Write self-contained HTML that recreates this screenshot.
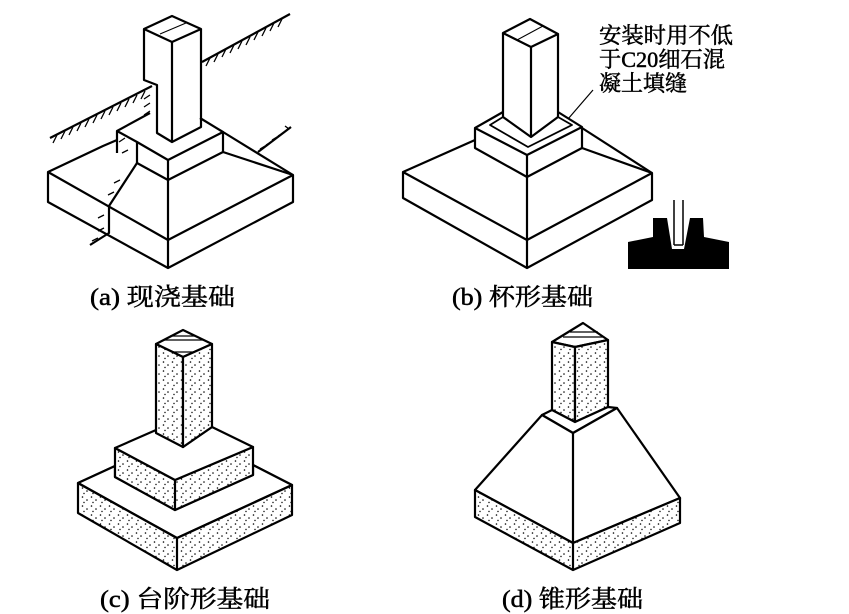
<!DOCTYPE html>
<html><head><meta charset="utf-8"><style>
html,body{margin:0;padding:0;background:#fff}
svg{display:block}
text{font-family:"Liberation Serif","Noto Serif CJK SC","Noto Sans CJK SC",serif;fill:#000}
</style></head><body>
<svg width="849" height="614" viewBox="0 0 849 614" xmlns="http://www.w3.org/2000/svg">
<defs>
<pattern id="dots" width="9" height="9" patternUnits="userSpaceOnUse">
<rect width="9" height="9" fill="#fff"/>
<circle cx="1.5" cy="2" r="0.8" fill="#000"/><circle cx="6" cy="5" r="0.8" fill="#000"/><circle cx="3" cy="7.5" r="0.7" fill="#000"/>
</pattern>
</defs>
<g fill="none" stroke="#000" stroke-width="2.2" stroke-linejoin="round">
<!-- (a) -->
<polyline points="50,138 152,86"/>
<polyline points="202,62 290,14"/>
<polyline points="258,152 291,127"/>
<g stroke-width="1.3">
<path d="M57,135 l-4,8 M65,131 l-4,8 M73,127 l-4,8 M81,123 l-4,8 M89,119 l-4,8 M97,115 l-4,8 M105,111 l-4,8 M113,107 l-4,8 M121,103 l-4,8 M129,99 l-4,8 M137,95 l-4,8 M145,91 l-4,8"/>
<path d="M210,58 l-4,8 M218,54 l-4,8 M226,49 l-4,8 M234,45 l-4,8 M242,41 l-4,8 M250,37 l-4,8 M258,32 l-4,8 M266,28 l-4,8 M274,23 l-4,8 M282,19 l-4,8"/>
<path d="M265,146 l-5,3 M271,142 l-5,3 M277,137 l-5,3 M283,133 l-5,3 M289,129 l-4,-3"/>
<path d="M150,95 l-6,4 M150,103 l-6,4 M150,111 l-6,4 M125,138 l-6,4 M128,150 l-6,3 M120,180 l-6,3 M114,192 l-6,3 M104,215 l-6,3 M104,228 l-6,3 M98,238 l-6,3"/>
</g>
<polygon points="144,29 172,16 201,29 172,42" />
<line x1="172" y1="42" x2="172" y2="142"/>
<polyline points="144,29 144,80 157,85 157,133 172,142 201,127 201,29"/>
<line x1="160" y1="34" x2="186" y2="23" stroke-width="1"/>
<polyline points="150,113 117,131 117,153"/>
<polyline points="117,131 137,142 168,160 223,132 200,118"/>
<line x1="168" y1="160" x2="168" y2="268"/>
<line x1="223" y1="132" x2="223" y2="152"/>
<polyline points="137,163 168,180 223,152"/>
<line x1="137" y1="142" x2="137" y2="163"/>
<polyline points="137,163 109,206 109,233 90,245"/>
<polyline points="117,140 103,146 48,172 48,202 168,268 293,202 293,175 168,240 48,172"/>
<line x1="223" y1="132" x2="293" y2="175"/>
<line x1="223" y1="152" x2="293" y2="175"/>

<!-- (b) -->
<polygon points="503,33 530,19 558,34 531,47"/>
<line x1="531" y1="47" x2="531" y2="137"/>
<polyline points="503,33 503,117 531,137 558,117 558,34"/>
<g stroke-width="1"><line x1="517" y1="40" x2="543" y2="26"/></g>
<polyline points="503,117 490,125 528,147 572,125 558,117" stroke-width="1.8"/>
<polyline points="503,112 475,128 475,148 527,177 582,148 582,127 558,112"/>
<polyline points="475,128 527,155 582,127"/>
<line x1="527" y1="155" x2="527" y2="268"/>
<polyline points="475,140 403,172 403,198 527,268 652,200 652,173 527,240 403,172"/>
<line x1="582" y1="128" x2="652" y2="173"/>
<line x1="582" y1="148" x2="652" y2="173"/>
<line x1="593" y1="90" x2="568" y2="119" stroke-width="1.2"/>

<!-- (c) -->
<polygon points="156,344 183,330 212,344 183,357" fill="#fff"/>
<g stroke-width="1.2"><line x1="170" y1="336" x2="196" y2="336"/><line x1="164" y1="340" x2="203" y2="340"/><line x1="171" y1="352" x2="195" y2="352"/></g>
<polygon points="78,483 115,466 115,477 175,510 253,475 253,465 292,485 292,515 177,570 78,513" fill="url(#dots)"/>
<polygon points="78,483 115,466 115,477 175,510 253,475 253,465 292,485 177,538" fill="#fff"/>
<polyline points="78,483 177,538 292,485"/>
<line x1="177" y1="538" x2="177" y2="570"/>
<polygon points="115,448 115,477 175,510 253,475 253,447 175,480" fill="url(#dots)"/>
<polygon points="115,448 156,430 183,447 212,427 253,447 175,480" fill="#fff"/>
<line x1="175" y1="480" x2="175" y2="510"/>
<polygon points="156,344 183,357 183,447 156,433" fill="url(#dots)"/>
<polygon points="183,357 212,344 212,427 183,447" fill="url(#dots)"/>

<!-- (d) -->
<polygon points="552,342 583,323 608,340 575,347" fill="#fff"/>
<g stroke-width="1.2"><line x1="570" y1="332" x2="598" y2="332"/><line x1="563" y1="337" x2="604" y2="337"/></g>
<polygon points="552,342 575,347 575,422 552,410" fill="url(#dots)"/>
<polygon points="575,347 608,340 608,407 575,422" fill="url(#dots)"/>
<polygon points="542,415 552,410 575,422 608,407 617,408 573,433" fill="#fff"/>
<polygon points="475,490 542,415 573,433 617,408 680,498 573,543" fill="#fff"/>
<line x1="573" y1="433" x2="573" y2="570"/>
<polygon points="475,490 573,543 680,498 680,523 573,570 475,517" fill="url(#dots)"/>
<line x1="573" y1="543" x2="573" y2="570"/>
</g>
<polygon points="628,242 653,237 653,218 667,218 672,249 684,249 690,218 703,218 704,237 729,242 729,269 628,269" fill="#000"/>
<rect x="673" y="200" width="11" height="47" fill="#fff"/>
<line x1="674" y1="200" x2="674" y2="245" stroke="#000" stroke-width="1.5"/>
<line x1="683" y1="200" x2="683" y2="245" stroke="#000" stroke-width="1.5"/>
<line x1="674" y1="245" x2="683" y2="245" stroke="#000" stroke-width="1.5"/>

<g stroke="#000" stroke-width="0.5">
<text x="599" y="43" font-size="22" textLength="134" lengthAdjust="spacingAndGlyphs">安装时用不低</text>
<text x="599" y="67" font-size="22" textLength="126" lengthAdjust="spacingAndGlyphs">于C20细石混</text>
<text x="599" y="91" font-size="22" textLength="88" lengthAdjust="spacingAndGlyphs">凝土填缝</text>
<text x="90" y="305" font-size="24" textLength="145" lengthAdjust="spacingAndGlyphs">(a) 现浇基础</text>
<text x="452" y="305" font-size="24" textLength="141" lengthAdjust="spacingAndGlyphs">(b) 杯形基础</text>
<text x="100" y="607" font-size="24" textLength="170" lengthAdjust="spacingAndGlyphs">(c) 台阶形基础</text>
<text x="502" y="607" font-size="24" textLength="141" lengthAdjust="spacingAndGlyphs">(d) 锥形基础</text>
</g>
</svg>
</body></html>
